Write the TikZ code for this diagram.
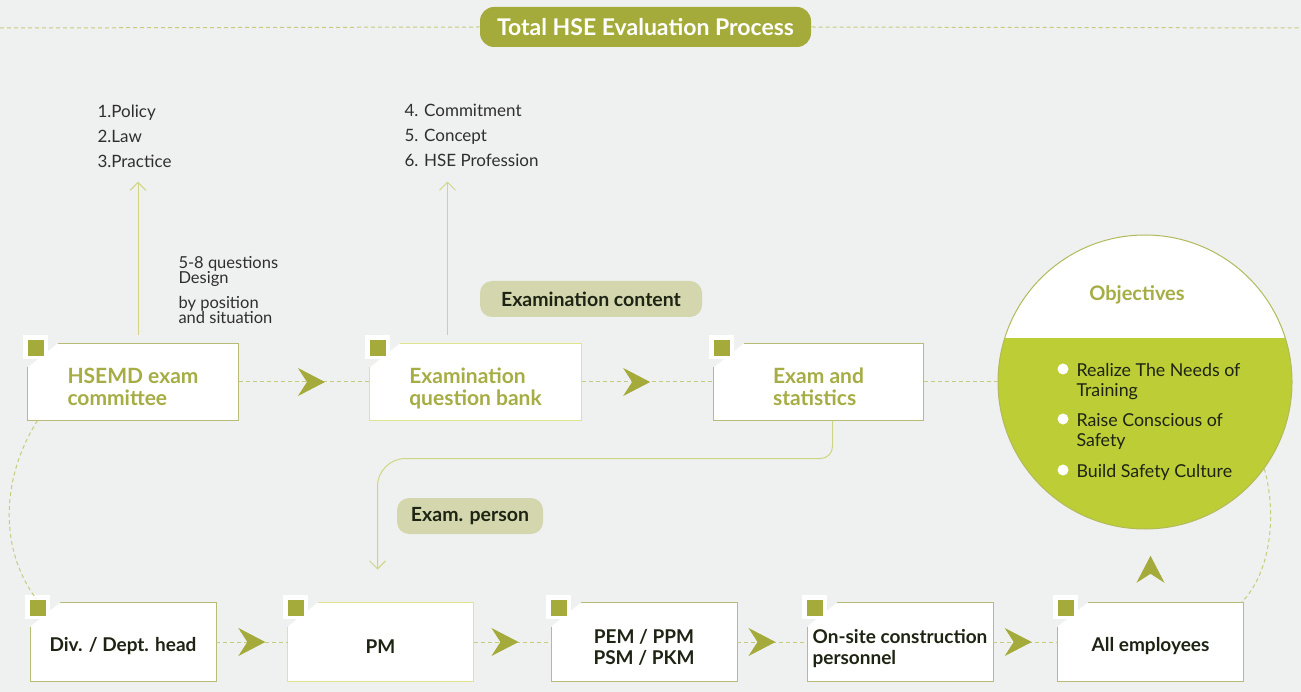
\documentclass[tikz,border=0pt]{standalone}
\usepackage{fontspec}
\setmainfont{Lato}
\usetikzlibrary{arrows.meta,decorations.markings}

\definecolor{olive}{HTML}{A4AB3A}
\definecolor{boxtext}{HTML}{A6AD45}
\definecolor{lime}{HTML}{BDCD36}
\definecolor{pale}{HTML}{E0E48C}
\definecolor{frame}{HTML}{B8BC76}
\definecolor{pill}{HTML}{D4D7AD}
\definecolor{dashcol}{HTML}{C6CB7E}
\definecolor{routecol}{HTML}{CFD584}
\definecolor{ring}{HTML}{B3BA5C}
\definecolor{bg}{HTML}{EFF1F0}
\definecolor{ink}{HTML}{1E2414}
\definecolor{soft}{HTML}{2F2F2F}

\tikzset{every picture/.style={line width=1pt}}

\begin{document}
\begin{tikzpicture}[x=1pt, y=-1pt,
    dashline/.style={dashcol, dash pattern=on 4pt off 3pt},
    flow/.style={dashline, postaction={decorate}, decoration={markings,
        mark=at position #1 with {\arrow{Stealth[length=27pt,width=28pt,inset=9pt,color=olive]}}}},
    flow/.default=0.6,
    route/.style={routecol},
    tip/.style={-{Straight Barb[length=8pt,width=16pt]}},
    title/.style={fill=olive, rounded corners=14, minimum width=331, minimum height=40,
        text=white, font=\fontsize{23}{26}\selectfont\bfseries},
    topbox/.style={fill=white, minimum width=210, minimum height=76, inner sep=0,
        align=left, text=boxtext, font=\fontsize{21}{22}\selectfont\bfseries},
    lowbox/.style={fill=white, minimum width=185, minimum height=78, inner sep=0,
        align=left, text=ink, font=\fontsize{19}{21}\selectfont\bfseries},
    tag/.style={fill=pill, rounded corners=12, minimum height=36, inner sep=0,
        text=ink, font=\fontsize{19.5}{22}\selectfont\bfseries},
    note/.style={anchor=north west, inner sep=0, align=left, text=soft},
    objective/.style={circle, minimum size=294, inner sep=0}]

  \def\lift#1{\rule{0pt}{#1pt}}

  % page
  \fill[bg] (0,0) rectangle (1301,692);
  \useasboundingbox (0,0) rectangle (1301,692);

  % title
  \coordinate (edgeL) at (0,28);
  \coordinate (edgeR) at (1301,28);
  \node[title] (title) at (645.5,27) {Total HSE Evaluation Process};
  \draw[dashline] (edgeL) -- (title.west);
  \draw[dashline] (title.east) -- (edgeR);

  % boxes
  \node[topbox] (hsemd) at (133,382) {\lift{25}HSEMD exam\\committee};
  \node[topbox, minimum width=211] (bank) at (475.5,382) {\lift{29}Examination\\question bank};
  \node[topbox, minimum width=209] (stats) at (818.5,382) {\lift{25}Exam and\\statistics};

  \node[lowbox] (div) at (123,642) {\lift{22}Div. / Dept. head};
  \node[lowbox] (pm) at (380.5,642) {\lift{22}PM};
  \node[lowbox, align=center] (pem) at (644,642) {\lift{24}PEM / PPM\\PSM / PKM};
  \node[lowbox] (onsite) at (900,642) {\lift{28}On-site construction\\personnel};
  \node[lowbox] (allemp) at (1150.5,642) {\lift{22}All employees};

  \foreach \n/\c in {hsemd/frame, bank/pale, stats/frame, div/frame,
                     pm/pale, pem/frame, onsite/frame, allemp/frame}{
    \fill[bg] (\n.north west) -- ++(30,0) -- ++(-30,24) -- cycle;
    \draw[\c] ([xshift=30pt]\n.north west) -- (\n.north east) -- (\n.south east)
      -- (\n.south west) -- ([yshift=-24pt]\n.north west);
    \fill[white] ([shift={(-5,-8)}]\n.north west) rectangle ++(25,24);
    \fill[olive] ([shift={(0,-3)}]\n.north west) rectangle ++(16,16);
  }

  % notes
  \node[note, font=\fontsize{17}{25}\selectfont] (policy) at (97,104) {1.Policy\\2.Law\\3.Practice};
  \node[note, font=\fontsize{17}{25}\selectfont] (commit) at (404,104) {4. Commitment\\5. Concept\\6. HSE Profession};
  \node[note, font=\fontsize{16.5}{15}\selectfont] (design) at (178,256) {5-8 questions\\Design};
  \node[note, font=\fontsize{16.5}{15}\selectfont] (situation) at (178,296) {by position\\and situation};
  \draw[route, tip] ([xshift=5pt, yshift=8pt]hsemd.north) -- ([xshift=5pt, yshift=-14pt]hsemd.north |- policy.south);
  \draw[route, tip] ([xshift=-28pt, yshift=8pt]bank.north) -- ([xshift=-28pt, yshift=-14pt]bank.north |- commit.south);

  % tags
  \node[tag, minimum width=222] (content) at (591,299) {Examination content};
  \node[tag, minimum width=146] (person) at (470,516) {Exam. person};

  % objectives
  \node[objective] (obj) at (1145,382) {};
  \begin{scope}
    \clip (obj.center) circle (147);
    \fill[white] (obj.center) circle (147);
    \fill[lime] (990,338) rectangle (1300,540);
  \end{scope}
  \draw[ring] (obj.center) circle (147);
  \node[font=\fontsize{20}{24}\selectfont\bfseries, text=boxtext] (aims) at (1137,295) {Objectives};
  \foreach \y/\txt [count=\i] in {363/{Realize The Needs of\\Training},
                                  413/{Raise Conscious of\\Safety},
                                  464/{Build Safety Culture}}{
    \fill[white] (1063,\y+6) circle (5.5);
    \node[note, text=ink, font=\fontsize{17.8}{20}\selectfont] (aim\i) at (1076,\y) {\txt};
  }

  % connectors
  \draw[flow=0.66] (hsemd.east) -- (bank.west);
  \draw[flow=0.52] (bank.east) -- (stats.west);
  \draw[dashline] (stats.east) -- (obj.west);
  \draw[flow=0.69] (div.east) -- (pm.west);
  \draw[flow=0.58] (pm.east) -- (pem.west);
  \draw[flow=0.55] (pem.east) -- (onsite.west);
  \draw[flow=0.6] (onsite.east) -- (allemp.west);
  \path[flow=0.64] (allemp.north) -- (allemp.north |- obj.south);
  \draw[dashline] ([xshift=10pt]hsemd.south west) .. controls (0,480) and (0,550) .. ([xshift=6pt, yshift=4pt]div.north west);
  \draw[dashline] (obj.-36) .. controls (1276,510) and (1273,570) .. ([xshift=-2pt]allemp.north east);
  \draw[route, tip, rounded corners=12] ([xshift=14pt]stats.south) -- ++(0,38)
    [rounded corners=28] -| ([xshift=-3pt, yshift=33pt]pm.north);

\end{tikzpicture}
\end{document}
